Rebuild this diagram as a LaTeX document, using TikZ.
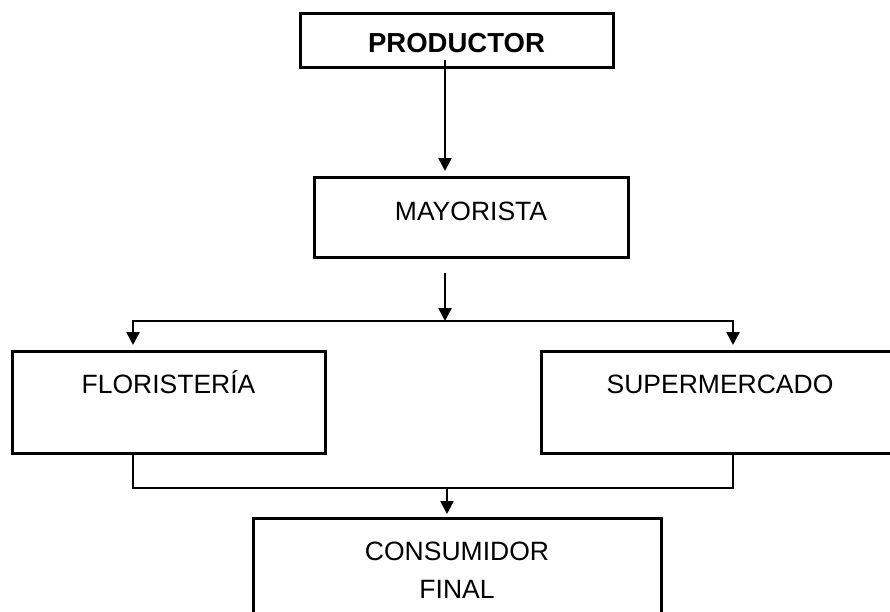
\documentclass[tikz,border=0pt]{standalone}
\usepackage{fontspec}
\setmainfont{Liberation Sans}
\usetikzlibrary{arrows.meta,calc}
\tikzset{
  caja/.style={draw, line width=3pt, inner sep=0pt, outer sep=0pt, align=center,
    anchor=north west, font=\fontsize{26.5}{38}\selectfont},
  linea/.style={line width=2.5pt},
  flecha/.style={linea, -{Triangle[width=13pt,length=13pt]}}
}
\begin{document}
\begin{tikzpicture}[x=1pt,y=-1pt]
  \useasboundingbox (0,0) rectangle (890,611);
  \clip (0,0) rectangle (890,611);
  %boxes
  \node[caja, font=\fontsize{27.5}{33}\selectfont\bfseries, text width=313pt,
        text height=39pt, text depth=15pt] (productor) at (300,13) {PRODUCTOR};
  \node[caja, text width=314pt, text height=43pt, text depth=37pt] (mayorista)
        at (314,177) {MAYORISTA};
  \node[caja, text width=313pt, text height=42pt, text depth=60pt] (floristeria)
        at (12,351) {FLORISTERÍA};
  \node[caja, text width=358pt, text height=42pt, text depth=60pt] (supermercado)
        at (541,351) {SUPERMERCADO};
  \node[caja, text width=408pt, text height=42pt, text depth=80pt] (consumidor)
        at (253,518) {CONSUMIDOR\\FINAL};
  %junctions
  \coordinate (bajada) at ($(productor.south)+(-11.5,-7)$);
  \coordinate (reparto) at (445,321);
  \coordinate (izq) at (133,321);
  \coordinate (der) at (733,321);
  \coordinate (union) at (447,488);
  %productor to mayorista
  \draw[flecha, shorten >=6pt] (bajada) -- (bajada |- mayorista.north);
  %mayorista to both shops
  \draw[flecha] ($(reparto |- mayorista.south)+(0,16)$) -- (reparto);
  \draw[flecha, shorten >=6pt] (reparto) -- (izq) -- (izq |- floristeria.north);
  \draw[flecha, shorten >=6pt] (reparto) -- (der) -- (der |- supermercado.north);
  %both shops to consumidor
  \draw[linea] (izq |- floristeria.south) -- (izq |- union)
        -- (der |- union) -- (der |- supermercado.south);
  \draw[flecha, shorten >=4pt] (union) -- (union |- consumidor.north);
\end{tikzpicture}
\end{document}
